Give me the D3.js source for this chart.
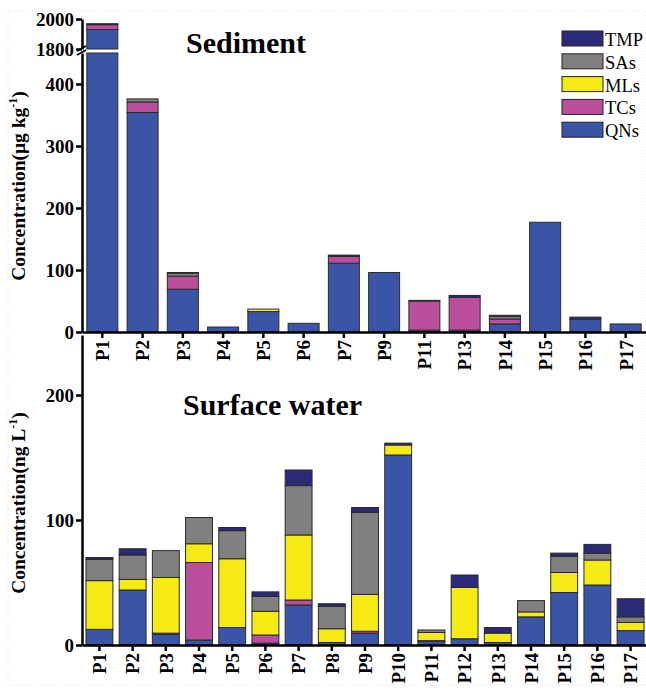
<!DOCTYPE html>
<html>
<head>
<meta charset="utf-8">
<script src="https://cdn.jsdelivr.net/npm/d3@7"></script>
<style>
  body { margin: 0; background: #fff; }
  svg { display: block; }
  text { font-family: "Liberation Serif", "Times New Roman", serif; }
</style>
</head>
<body>
<svg id="chart"></svg>
<script>
// compounds, stacked bottom -> top
const groups = ["QNs", "TCs", "MLs", "SAs", "TMP"];
const colors = ["#3a55a5", "#bb4f9e", "#f5ea14", "#808080", "#2a2a78"];
const legendOrder = ["TMP", "SAs", "MLs", "TCs", "QNs"];

// sediment (ug/kg)
const sedSites = ["P1", "P2", "P3", "P4", "P5", "P6", "P7", "P9", "P11", "P13", "P14", "P15", "P16", "P17"];
const sedQNs = [1930, 354, 69, 8, 33, 14, 111, 96, 3, 3, 13, 177, 21, 13];
const sedTCs = [32, 17, 21, 0, 0, 0, 11, 0, 47, 53, 8, 0, 0, 0];
const sedMLs = [0, 0, 0, 0, 4, 0, 0, 0, 0, 0, 0, 0, 0, 0];
const sedSAs = [4, 5, 5, 0, 0, 0, 0, 0, 1, 0, 4, 0, 0, 0];
const sedTMP = [2, 0, 1, 0, 0, 0, 2, 0, 0, 3, 2, 0, 3, 0];
const sedTicksLow = [0, 100, 200, 300, 400];
const sedTicksHigh = [1800, 2000];

// surface water (ng/L)
const watSites = ["P1", "P2", "P3", "P4", "P5", "P6", "P7", "P8", "P9", "P10", "P11", "P12", "P13", "P14", "P15", "P16", "P17"];
const watQNs = [12.5, 44, 8.5, 4, 14, 1.5, 32, 2, 9.5, 152, 3, 5, 2, 22.5, 42, 48, 11.5];
const watTCs = [0, 0, 1, 62, 0, 6.5, 4, 0, 1.5, 0, 0.5, 0, 0, 0, 0, 0, 0];
const watMLs = [39, 8.5, 44.5, 15, 55, 19, 52, 11, 29.5, 8, 6.5, 41, 7.5, 4, 16, 20, 6.5];
const watSAs = [17, 19.5, 21.5, 21, 22.5, 12, 39.5, 18, 65.5, 0, 2, 0, 0, 9, 13, 5.5, 4.5];
const watTMP = [1.5, 5, 0, 0, 2.5, 3.5, 12.5, 2, 4, 1.5, 0, 10, 4.5, 0, 2.5, 7, 14.5];
const watTicks = [0, 100, 200];

const W = 646, H = 690;
const svg = d3.select("#chart").attr("width", W).attr("height", H);
const color = d3.scaleOrdinal().domain(groups).range(colors);

// faint frame like the scanned figure
svg.append("rect").attr("x", 8).attr("y", 11).attr("width", W - 8).attr("height", H - 16)
  .attr("fill", "none").attr("stroke", "#e4e4e4").attr("stroke-dasharray", "1,2");

function toRows(sites, cols) {
  return sites.map((s, i) => {
    const r = { site: s };
    groups.forEach((g, j) => r[g] = cols[j][i]);
    return r;
  });
}

const stack = d3.stack().keys(groups);
const axisX = 82;
const fmt = d3.format("d");

function styleAxis(g, size) {
  g.select(".domain").attr("stroke", "#000").attr("stroke-width", 2.5);
  g.selectAll(".tick line").attr("stroke", "#000").attr("stroke-width", 2.5);
  g.selectAll(".tick text").attr("fill", "#000").attr("font-size", size).attr("font-weight", "bold")
    .style("font-family", '"Liberation Serif", "Times New Roman", serif');
}

function xAxis(x, y0) {
  const g = svg.append("g").attr("transform", `translate(0,${y0})`)
    .call(d3.axisBottom(x).tickSize(6).tickSizeOuter(0));
  styleAxis(g, 19);
  g.selectAll(".tick text")
    .attr("transform", "rotate(-90)")
    .attr("text-anchor", "end")
    .attr("x", -8).attr("y", 0).attr("dy", "0.36em");
}

function yLabel(cy, main, sup) {
  const t = svg.append("text")
    .attr("transform", `translate(25,${cy}) rotate(-90)`)
    .attr("text-anchor", "middle")
    .attr("font-size", 19.5).attr("font-weight", "bold");
  t.append("tspan").text(main);
  t.append("tspan").attr("font-size", 12).attr("dy", -8).text(sup);
  t.append("tspan").attr("dy", 8).text(")");
}

// ---------- sediment ----------
const sedData = stack(toRows(sedSites, [sedQNs, sedTCs, sedMLs, sedSAs, sedTMP]));
const xs = d3.scaleBand().domain(sedSites).range([axisX, 646]).paddingInner(0.23).paddingOuter(0.12);
const yLow = d3.scaleLinear().domain([0, 450]).range([332, 53]);
const yHigh = d3.scaleLinear().domain([1800, 2000]).range([49, 19]);

const sedG = svg.append("g");
sedData.forEach(layer => {
  layer.forEach(d => {
    const v0 = d[0], v1 = d[1];
    if (v1 - v0 <= 0) return;
    const x0 = xs(d.data.site);
    // lower segment
    if (v0 < 450) {
      const a = yLow(v0), b = yLow(Math.min(v1, 450));
      sedG.append("rect").attr("x", x0).attr("width", xs.bandwidth())
        .attr("y", b).attr("height", a - b)
        .attr("fill", color(layer.key)).attr("stroke", "#2a2a2a").attr("stroke-width", 1);
    }
    // upper segment
    if (v1 > 1800) {
      const a = yHigh(Math.max(v0, 1800)), b = yHigh(v1);
      sedG.append("rect").attr("x", x0).attr("width", xs.bandwidth())
        .attr("y", b).attr("height", a - b)
        .attr("fill", color(layer.key)).attr("stroke", "#2a2a2a").attr("stroke-width", 1);
    }
  });
});

const gl = svg.append("g").attr("transform", `translate(${axisX},0)`)
  .call(d3.axisLeft(yLow).tickValues(sedTicksLow).tickFormat(fmt).tickSize(6).tickSizeOuter(0).tickPadding(2));
styleAxis(gl, 19);
const gh = svg.append("g").attr("transform", `translate(${axisX},0)`)
  .call(d3.axisLeft(yHigh).tickValues(sedTicksHigh).tickFormat(fmt).tickSize(6).tickSizeOuter(0).tickPadding(2));
styleAxis(gh, 19);
// axis break marks
[0, 4].forEach(o => {
  svg.append("line").attr("x1", axisX - 5).attr("y1", 51 + o).attr("x2", axisX + 4).attr("y2", 46 + o)
    .attr("stroke", "#000").attr("stroke-width", 1.8);
});
xAxis(xs, 332);

svg.append("text").attr("x", 246).attr("y", 53).attr("text-anchor", "middle")
  .attr("font-size", 30).attr("font-weight", "bold").text("Sediment");
yLabel(186, "Concentration(μg kg", "-1");

// legend
const leg = svg.append("g");
legendOrder.forEach((k, i) => {
  const y = 31 + i * 22.8;
  leg.append("rect").attr("x", 562).attr("y", y).attr("width", 41).attr("height", 15)
    .attr("fill", color(k)).attr("stroke", "#222").attr("stroke-width", 1);
  leg.append("text").attr("x", 605).attr("y", y + 15).attr("font-size", 18.5).text(k);
});

// ---------- surface water ----------
const watData = stack(toRows(watSites, [watQNs, watTCs, watMLs, watSAs, watTMP]));
const xw = d3.scaleBand().domain(watSites).range([axisX, 648]).paddingInner(0.19).paddingOuter(0.12);
const yw = d3.scaleLinear().domain([0, 248]).range([645, 335]);

svg.append("g").selectAll("g").data(watData).join("g")
  .attr("fill", d => color(d.key))
  .selectAll("rect").data(d => d.filter(v => v[1] - v[0] > 0)).join("rect")
  .attr("x", d => xw(d.data.site))
  .attr("width", xw.bandwidth())
  .attr("y", d => yw(d[1]))
  .attr("height", d => yw(d[0]) - yw(d[1]))
  .attr("stroke", "#2a2a2a").attr("stroke-width", 1);

const gw = svg.append("g").attr("transform", `translate(${axisX},0)`)
  .call(d3.axisLeft(yw).tickValues(watTicks).tickFormat(fmt).tickSize(6).tickSizeOuter(0).tickPadding(2));
styleAxis(gw, 19);
xAxis(xw, 645);

svg.append("text").attr("x", 183).attr("y", 415)
  .attr("font-size", 30).attr("font-weight", "bold").text("Surface water");
yLabel(503, "Concentration(ng L", "-1");
</script>
</body>
</html>
